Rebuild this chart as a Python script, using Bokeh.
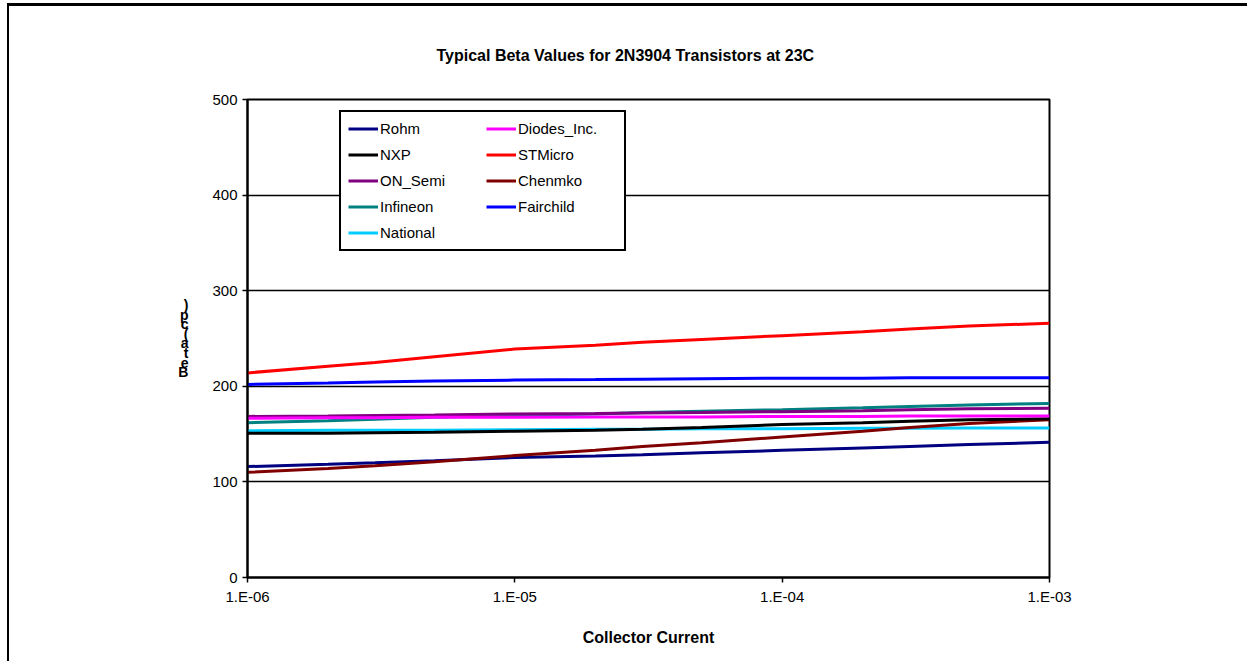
from bokeh.plotting import figure
from bokeh.models import Legend, LegendItem, FixedTicker, Range1d
from bokeh.embed import file_html
from bokeh.resources import INLINE

current = [1e-6, 2e-6, 3e-6, 5e-6, 1e-5, 2e-5, 3e-5, 5e-5, 1e-4, 2e-4, 3e-4, 5e-4, 1e-3]

rohm      = [116, 118.5, 120, 122, 125.5, 127, 128.5, 130.5, 133, 135.5, 137, 139, 141.5]
nxp       = [151, 151, 151.5, 152, 153, 154, 155, 157, 160, 162, 163.5, 165, 166]
on_semi   = [168.5, 169, 169.5, 170, 171, 171.5, 172, 172.5, 173.5, 174.5, 175.5, 176.5, 177]
infineon  = [162, 164, 165.5, 167.5, 169.5, 171, 172.5, 174, 175.5, 177.5, 179, 180.5, 182]
national  = [153.5, 154, 154, 154, 154.5, 155, 155, 155.5, 155.5, 156, 156, 156.5, 156.5]
diodes    = [166.5, 167, 167, 167.5, 167.5, 168, 168, 168, 168.5, 168.5, 169, 169, 169]
stmicro   = [214, 221, 225, 231, 239, 243, 246, 249, 253, 257, 260, 263, 266]
chenmko   = [110, 114, 117, 121, 127.5, 133, 137, 141, 147, 153, 157, 161, 165]
fairchild = [202, 203.5, 204.5, 205.5, 206.5, 207, 207.5, 208, 208.5, 208.5, 209, 209, 209]

series_names = ["Rohm", "NXP", "ON_Semi", "Infineon", "National",
                "Diodes_Inc.", "STMicro", "Chenmko", "Fairchild"]
series_values = [rohm, nxp, on_semi, infineon, national,
                 diodes, stmicro, chenmko, fairchild]
series_colors = ["#000080", "#000000", "#800080", "#008080", "#00CCFF",
                 "#FF00FF", "#FF0000", "#800000", "#0000FF"]

x_ticks = [1e-6, 1e-5, 1e-4, 1e-3]
x_tick_labels = ["1.E-06", "1.E-05", "1.E-04", "1.E-03"]
y_ticks = [0, 100, 200, 300, 400, 500]
y_label = ")\np\nc\n(\na\nt\ne\nB"

FONT = "Liberation Sans"

p = figure(width=1240, height=658, x_axis_type="log",
           x_range=Range1d(1e-6, 1e-3), y_range=Range1d(0, 500),
           output_backend="svg", toolbar_location=None,
           min_border_left=238, min_border_right=200,
           min_border_top=93, min_border_bottom=87)
p.styles = {"margin-left": "7px", "margin-top": "3px",
            "border-left": "2px solid black", "border-top": "3px solid black"}
p.background_fill_color = "white"
p.border_fill_color = "white"
p.outline_line_color = "black"
p.outline_line_width = 2

draw_order = [4, 0, 7, 1, 3, 2, 5, 8, 6]
renderers = {}
for i in draw_order:
    r = p.line(current, series_values[i], line_color=series_colors[i], line_width=3)
    renderers[i] = r

items = [LegendItem(label=series_names[i], renderers=[renderers[i]]) for i in range(9)]
legend = Legend(items=items, location=(92, 326), orientation="vertical", nrows=5,
                label_text_font=FONT, label_text_font_size="15px",
                label_text_color="black",
                glyph_width=30, glyph_height=19, label_height=19, label_width=99,
                label_standoff=2, spacing=7, padding=7, margin=0,
                border_line_color="black", border_line_width=2.5, border_line_alpha=1,
                background_fill_color="white", background_fill_alpha=1)
p.add_layout(legend, "center")

# axes
p.xaxis.ticker = FixedTicker(ticks=x_ticks)
p.xaxis.major_label_overrides = {t: l for t, l in zip(x_ticks, x_tick_labels)}
p.yaxis.ticker = FixedTicker(ticks=y_ticks)
for ax in (p.xaxis, p.yaxis):
    ax.axis_line_color = "black"
    ax.axis_line_width = 2
    ax.major_tick_line_color = "black"
    ax.major_tick_line_width = 1.5
    ax.major_tick_out = 5
    ax.major_tick_in = 0
    ax.minor_tick_line_color = None
    ax.major_label_text_font = FONT
    ax.major_label_text_font_size = "15px"
    ax.major_label_text_color = "black"
    ax.axis_label_text_color = "black"
    ax.axis_label_text_font = FONT
    ax.axis_label_text_font_style = "bold"
p.xaxis.major_label_standoff = 5
p.yaxis.major_label_standoff = 5

p.xaxis.axis_label = "Collector Current"
p.xaxis.axis_label_text_font_size = "16px"
p.xaxis.axis_label_standoff = 21

p.yaxis.axis_label = y_label
p.yaxis.axis_label_orientation = "horizontal"
p.yaxis.axis_label_text_font_size = "14px"
p.yaxis.axis_label_text_line_height = 0.6
p.yaxis.axis_label_standoff = 21

p.xgrid.grid_line_color = None
p.ygrid.grid_line_color = "black"
p.ygrid.grid_line_width = 1.5

p.title.text = "Typical Beta Values for 2N3904 Transistors at 23C"
p.title.align = "left"
p.title.text_font = FONT
p.title.text_font_size = "16px"
p.title.text_font_style = "bold"
p.title.text_color = "black"
p.title.offset = 189
p.title.standoff = 72

open("out.html", "w").write(file_html(p, INLINE))
